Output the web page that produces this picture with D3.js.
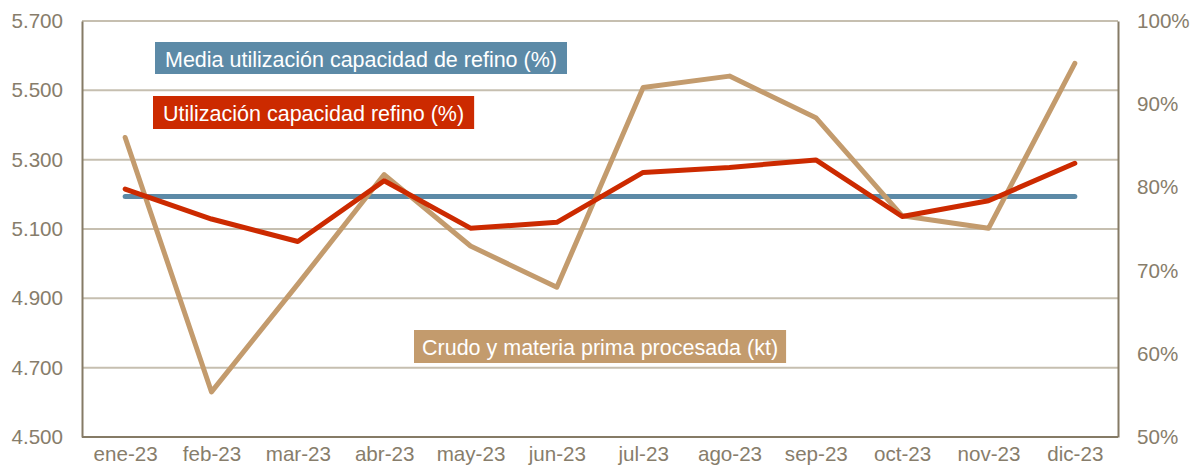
<!DOCTYPE html>
<html>
<head>
<meta charset="utf-8">
<script src="https://cdn.jsdelivr.net/npm/d3@7"></script>
<style>
  html, body { margin: 0; padding: 0; background: #ffffff; }
  svg { display: block; font-family: "Liberation Sans", Arial, sans-serif; }
</style>
</head>
<body>
<svg id="chart" width="1192" height="465"></svg>
<script>
// Monthly categories
const months = ["ene-23", "feb-23", "mar-23", "abr-23", "may-23", "jun-23",
                "jul-23", "ago-23", "sep-23", "oct-23", "nov-23", "dic-23"];

// Crude and feedstock processed (kt) – left axis
const crudo = [5364, 4630, 4941, 5257, 5051, 4932, 5508, 5541, 5421, 5138, 5102, 5578];

// Refining capacity utilisation (%) – right axis
const utilizacion = [79.8, 76.2, 73.5, 80.8, 75.1, 75.8, 81.8, 82.4, 83.3, 76.5, 78.4, 82.9];

// Average refining capacity utilisation (%) – right axis
const media = [78.9, 78.9, 78.9, 78.9, 78.9, 78.9, 78.9, 78.9, 78.9, 78.9, 78.9, 78.9];

// Axis tick values
const leftTicks = [4500, 4700, 4900, 5100, 5300, 5500, 5700];
const rightTicks = [50, 60, 70, 80, 90, 100];

// Series labels
const labelMedia = "Media utilización capacidad de refino (%)";
const labelUtil = "Utilización capacidad refino (%)";
const labelCrudo = "Crudo y materia prima procesada (kt)";

const svg = d3.select("#chart");
const plot = { left: 82, right: 1118, top: 21, bottom: 437 };

const colors = {
  axis: "#857b66",
  grid: "#c6bfb0",
  text: "#877d6b",
  tan: "#c39b6d",
  red: "#cc2a00",
  blue: "#5c8aa7"
};

const esLocale = d3.formatLocale({ decimal: ",", thousands: ".", grouping: [3], currency: ["", "€"] });
const fmtKt = esLocale.format(",");

const x = d3.scalePoint().domain(months).range([plot.left, plot.right]).padding(0.5);
const yL = d3.scaleLinear().domain([4500, 5700]).range([plot.bottom, plot.top]);
const yR = d3.scaleLinear().domain([50, 100]).range([plot.bottom, plot.top]);

const tickFont = "20.6px";

// Horizontal gridlines at the left-axis ticks
svg.append("g").selectAll("line")
  .data(leftTicks.filter(d => d !== 4500))
  .join("line")
  .attr("x1", plot.left).attr("x2", plot.right)
  .attr("y1", d => yL(d)).attr("y2", d => yL(d))
  .attr("stroke", colors.grid).attr("stroke-width", 2);

// Left axis
const gL = svg.append("g").attr("transform", `translate(${plot.left},0)`)
  .call(d3.axisLeft(yL).tickValues(leftTicks).tickFormat(fmtKt).tickSize(0).tickPadding(19));
gL.select(".domain").attr("stroke", colors.axis).attr("stroke-width", 2);
gL.selectAll("text").attr("fill", colors.text).style("font-size", tickFont)
  .style("font-family", '"Liberation Sans", Arial, sans-serif');

// Right axis
const gR = svg.append("g").attr("transform", `translate(${plot.right},0)`)
  .call(d3.axisRight(yR).tickValues(rightTicks).tickFormat(d => d + "%").tickSize(0).tickPadding(19));
gR.select(".domain").attr("stroke", colors.axis).attr("stroke-width", 2);
gR.selectAll("text").attr("fill", colors.text).style("font-size", tickFont)
  .style("font-family", '"Liberation Sans", Arial, sans-serif');

// Bottom axis
const gB = svg.append("g").attr("transform", `translate(0,${plot.bottom})`)
  .call(d3.axisBottom(x).tickSize(0).tickPadding(9));
gB.select(".domain").attr("stroke", colors.axis).attr("stroke-width", 2)
  .attr("d", `M${plot.left},0H${plot.right}`);
gB.selectAll("text").attr("fill", colors.text).style("font-size", tickFont)
  .style("font-family", '"Liberation Sans", Arial, sans-serif');

// Series lines
function drawLine(values, yScale, color) {
  const line = d3.line().x((d, i) => x(months[i])).y(d => yScale(d));
  svg.append("path")
    .datum(values)
    .attr("d", line)
    .attr("fill", "none")
    .attr("stroke", color)
    .attr("stroke-width", 5)
    .attr("stroke-linejoin", "round")
    .attr("stroke-linecap", "round");
}
drawLine(media, yR, colors.blue);
drawLine(crudo, yL, colors.tan);
drawLine(utilizacion, yR, colors.red);

// Series labels on coloured boxes
function tag(text, bx, by, h, fill, padX) {
  const g = svg.append("g").attr("transform", `translate(${bx},${by})`);
  const rect = g.append("rect").attr("height", h).attr("fill", fill);
  const t = g.append("text")
    .attr("x", padX).attr("y", 25)
    .attr("fill", "#ffffff")
    .style("font-size", "21.5px")
    .text(text);
  const w = t.node().getComputedTextLength();
  rect.attr("width", w + padX * 2);
}
tag(labelMedia, 155, 42, 32, colors.blue, 10);
tag(labelUtil, 153, 96, 33, colors.red, 10);
tag(labelCrudo, 414, 330, 33, colors.tan, 8);
</script>
</body>
</html>
